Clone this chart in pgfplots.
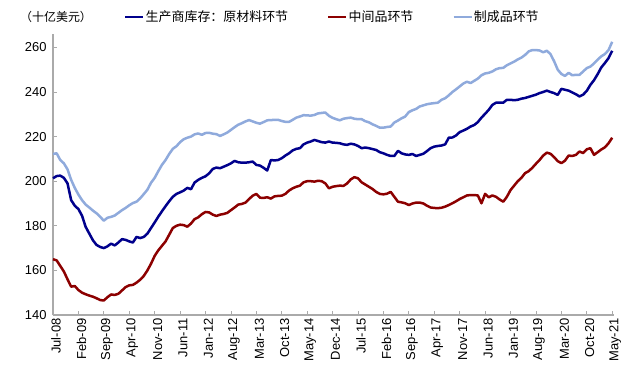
\documentclass[border=0pt]{standalone}
\usepackage{pgfplots}
\pgfplotsset{compat=1.18}
\usepackage{pgfplotstable}
\usepackage{fontspec}
\setmainfont{Liberation Sans}
\newfontfamily\cjk{Noto Sans CJK SC}
\definecolor{cblue}{RGB}{0,0,140}
\definecolor{cred}{RGB}{140,0,0}
\definecolor{clight}{RGB}{143,170,220}
\definecolor{caxis}{RGB}{170,170,170}
\pgfplotstableread{
i blue red light
0 201.3 165.0 212.2
1 202.3 164.5 212.5
2 202.5 162.0 209.5
3 201.5 159.5 208.0
4 199.0 156.0 205.3
5 191.5 152.7 200.6
6 189.0 153.0 197.0
7 187.5 151.2 194.0
8 184.5 150.0 191.5
9 179.5 149.3 189.5
10 176.5 148.7 188.2
11 173.5 148.2 186.8
12 171.4 147.5 185.6
13 170.5 146.7 184.0
14 170.0 146.5 182.3
15 170.8 148.0 183.6
16 172.0 149.2 184.0
17 171.2 149.0 184.6
18 172.5 149.5 185.8
19 174.0 151.0 187.0
20 173.7 152.5 188.0
21 173.0 153.3 189.2
22 172.5 153.5 190.2
23 175.0 154.5 190.8
24 174.5 155.8 192.3
25 175.0 157.5 194.2
26 176.5 160.0 196.2
27 179.0 163.0 199.3
28 181.5 166.5 201.5
29 184.1 169.0 204.5
30 186.5 171.0 207.3
31 188.8 173.0 209.5
32 191.0 176.0 212.2
33 193.0 179.0 214.5
34 194.3 180.0 215.7
35 195.0 180.5 217.5
36 195.8 180.3 218.8
37 197.0 179.6 219.5
38 196.4 181.0 220.0
39 199.4 183.0 221.0
40 200.6 183.8 221.4
41 201.5 185.2 220.8
42 202.2 186.2 221.6
43 203.5 186.0 221.7
44 205.5 185.0 221.3
45 206.1 184.4 221.1
46 205.8 185.0 220.3
47 206.5 185.3 221.0
48 207.2 185.8 221.8
49 208.0 187.0 223.0
50 209.1 188.2 224.2
51 208.5 189.5 225.3
52 208.3 189.8 226.0
53 208.3 190.4 226.8
54 208.5 192.0 227.4
55 208.8 193.5 226.8
56 207.3 194.3 226.2
57 207.0 192.6 225.8
58 206.0 192.5 226.5
59 204.8 192.8 227.3
60 209.5 192.2 227.4
61 209.3 193.2 227.5
62 209.5 193.4 227.5
63 210.3 193.5 227.0
64 211.5 194.3 226.6
65 212.5 195.8 226.6
66 213.8 196.8 227.5
67 214.5 197.5 228.5
68 214.8 198.0 229.0
69 216.5 199.5 229.6
70 217.3 200.0 229.5
71 217.8 200.0 229.4
72 218.5 199.8 229.7
73 218.0 200.2 230.4
74 217.5 200.0 230.6
75 217.3 199.0 230.8
76 217.8 196.8 229.3
77 217.3 197.5 228.4
78 217.2 197.8 227.8
79 217.0 198.0 227.3
80 216.5 197.9 228.0
81 216.3 199.0 228.3
82 216.8 200.8 228.5
83 216.5 201.8 228.0
84 215.8 201.3 227.8
85 214.8 199.5 227.8
86 215.1 198.5 226.9
87 214.8 197.5 226.4
88 214.4 196.5 225.5
89 214.0 195.2 224.8
90 213.0 194.3 224.0
91 212.5 194.1 224.0
92 211.8 194.4 224.3
93 211.3 195.2 224.5
94 211.3 193.0 226.3
95 213.6 190.8 227.2
96 212.5 190.5 228.2
97 212.0 190.1 229.0
98 211.8 189.3 231.0
99 212.2 190.0 231.8
100 211.3 190.4 232.4
101 211.8 190.4 233.5
102 212.3 190.0 234.0
103 213.5 189.0 234.5
104 214.8 188.2 234.8
105 215.5 188.0 235.0
106 215.8 187.9 235.2
107 216.0 188.1 236.5
108 216.5 188.6 237.2
109 219.5 189.3 238.5
110 219.6 190.1 240.0
111 220.5 191.0 241.2
112 222.0 192.0 242.5
113 222.7 192.8 243.8
114 223.5 193.6 244.6
115 224.5 193.8 244.0
116 225.2 193.8 245.0
117 226.5 193.6 246.0
118 228.5 190.1 247.5
119 230.2 194.3 248.3
120 232.0 192.8 248.6
121 234.2 193.6 249.2
122 235.2 193.0 250.2
123 235.2 191.8 250.7
124 235.2 190.8 250.8
125 236.5 193.0 252.0
126 236.5 196.0 252.8
127 236.3 198.0 253.6
128 236.5 200.0 254.6
129 237.0 201.5 255.4
130 237.3 203.6 256.6
131 237.8 204.5 258.2
132 238.3 206.0 258.8
133 238.8 207.8 258.8
134 239.5 209.5 258.6
135 240.0 211.5 257.8
136 240.6 212.8 258.5
137 240.0 212.3 257.0
138 239.5 210.8 253.8
139 238.7 209.0 250.0
140 241.4 208.1 248.1
141 241.0 209.2 247.2
142 240.6 211.5 248.6
143 239.8 211.3 247.5
144 239.0 211.8 247.7
145 238.0 213.3 247.7
146 238.8 212.6 249.2
147 240.5 214.3 250.7
148 243.2 214.8 251.4
149 245.3 211.8 252.8
150 248.0 213.0 254.5
151 251.0 214.2 256.0
152 253.0 215.2 257.0
153 255.2 217.0 258.8
154 258.5 219.5 262.5
}\datatable
\begin{document}
\begin{tikzpicture}
\path[use as bounding box] (-53bp,-61bp) rectangle (577bp,315bp);
\begin{axis}[
  scale only axis,
  width=561bp, height=281bp,
  xmin=0, xmax=154.5,
  ymin=140, ymax=266,
  axis x line*=bottom, axis y line*=left,
  axis line style={draw=caxis, line width=1.2bp, -},
  xtick={0,7,...,154},
  xticklabels={Jul-08,Feb-09,Sep-09,Apr-10,Nov-10,Jun-11,Jan-12,Aug-12,Mar-13,Oct-13,May-14,Dec-14,Jul-15,Feb-16,Sep-16,Apr-17,Nov-17,Jun-18,Jan-19,Aug-19,Mar-20,Oct-20,May-21},
  ytick={140,160,...,260},
  tick align=inside,
  major tick length=4bp,
  tick style={draw=caxis, line width=0.8bp},
  /pgf/number format/assume math mode=true,
  tick label style={font=\fontsize{13}{15}\selectfont},
  x tick label style={rotate=90, anchor=east},
  yticklabel style={xshift=-3bp},
  xticklabel style={yshift=-3bp},
  legend columns=3,
  legend style={draw=none, fill=none, at={(71bp,298bp)}, anchor=west,
    font=\cjk\fontsize{13}{15}\selectfont, inner sep=0pt,
    /tikz/every even column/.append style={column sep=38bp},
    nodes={inner xsep=1bp}},
  legend cell align=left,
  legend image code/.code={\draw[#1, line width=2.5bp] (0bp,0bp) -- (18bp,0bp);},
  clip=false,
]
\addplot[cblue, line width=2.5bp, line join=round] table[x=i, y=blue] {\datatable};
\addlegendentry{生产商库存：原材料环节}
\addplot[cred, line width=2.5bp, line join=round] table[x=i, y=red] {\datatable};
\addlegendentry{中间品环节}
\addplot[clight, line width=2.5bp, line join=round] table[x=i, y=light] {\datatable};
\addlegendentry{制成品环节}
\end{axis}
\node[anchor=west, font=\cjk\fontsize{12}{14}\selectfont, inner sep=0pt] at (-33bp,298bp) {（十亿美元）};
\end{tikzpicture}
\end{document}
